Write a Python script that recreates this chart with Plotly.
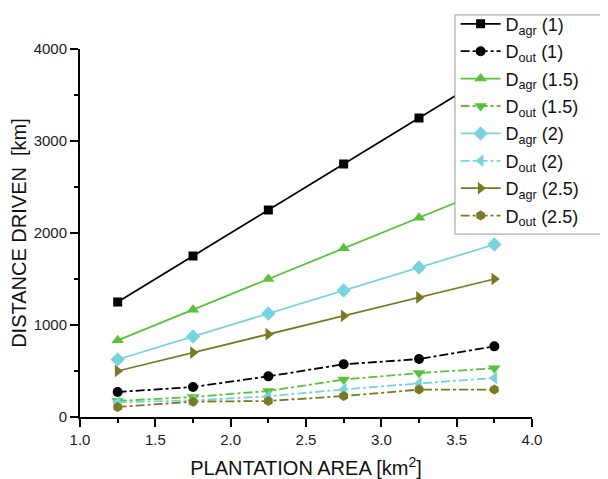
import plotly.graph_objects as go

area = [1.25, 1.75, 2.25, 2.75, 3.25, 3.75]

d_agr_1 = [1250, 1750, 2250, 2750, 3250, 3750]
d_out_1 = [272, 326, 442, 573, 630, 768]
d_agr_15 = [833, 1167, 1500, 1833, 2167, 2500]
d_out_15 = [175, 217, 283, 407, 478, 529]
d_agr_2 = [625, 875, 1125, 1375, 1625, 1875]
d_out_2 = [160, 180, 225, 300, 365, 424]
d_agr_25 = [500, 700, 900, 1100, 1300, 1500]
d_out_25 = [109, 167, 174, 228, 298, 298]

BLACK = "#000000"
GREEN = "#58c23a"
CYAN = "#79d2dd"
OLIVE = "#7a7a22"

series = [
    ("D<sub>agr</sub> (1)", d_agr_1, BLACK, "solid", "square", 9),
    ("D<sub>out</sub> (1)", d_out_1, BLACK, "dashdot", "circle", 10),
    ("D<sub>agr</sub> (1.5)", d_agr_15, GREEN, "solid", "triangle-up", 11),
    ("D<sub>out</sub> (1.5)", d_out_15, GREEN, "dashdot", "triangle-down", 11),
    ("D<sub>agr</sub> (2)", d_agr_2, CYAN, "solid", "diamond", 11),
    ("D<sub>out</sub> (2)", d_out_2, CYAN, "dashdot", "triangle-left", 11),
    ("D<sub>agr</sub> (2.5)", d_agr_25, OLIVE, "solid", "triangle-right", 11),
    ("D<sub>out</sub> (2.5)", d_out_25, OLIVE, "dashdot", "hexagon", 10),
]

fig = go.Figure()
for i, (name, vals, color, dash, sym, size) in enumerate(series):
    fig.add_trace(go.Scatter(
        x=area, y=vals, name=name, mode="lines+markers",
        legendgroup="g%d" % i,
        line=dict(color=color, width=1.8, dash=dash),
        marker=dict(color=color, symbol=sym, size=size, line=dict(width=0)),
        cliponaxis=False,
    ))

# legend frame (runs off the right edge, as in the reference)
fig.add_shape(type="rect", xref="paper", yref="paper",
              x0=0.8296, x1=1.25, y0=0.497, y1=1.0925,
              fillcolor="white", line=dict(color="#9a9a9a", width=1), layer="above")

FONT = "Liberation Sans, Arial, sans-serif"
fig.update_layout(
    width=608, height=479,
    margin=dict(l=72, r=84, t=41, b=70, autoexpand=False),
    paper_bgcolor="white", plot_bgcolor="white",
    font=dict(family=FONT, color="#222222", size=15),
    showlegend=True,
    legend=dict(
        x=0.831, y=1.118, xanchor="left", yanchor="top",
        bgcolor="rgba(0,0,0,0)", borderwidth=0,
        font=dict(family=FONT, size=18, color="#111111"),
        tracegroupgap=1, itemwidth=40,
    ),
    xaxis=dict(
        range=[1.0, 4.0], tickmode="array",
        tickvals=[1.0, 1.5, 2.0, 2.5, 3.0, 3.5, 4.0],
        ticktext=["1.0", "1.5", "2.0", "2.5", "3.0", "3.5", "4.0"],
        ticks="outside", ticklen=8, tickwidth=2, tickcolor="black",
        minor=dict(tickvals=[1.25, 1.75, 2.25, 2.75, 3.25, 3.75], ticks="outside", ticklen=4, tickwidth=1.5, tickcolor="black"),
        showline=True, linecolor="black", linewidth=2,
        showgrid=False, zeroline=False, automargin=False,
        tickfont=dict(size=15, family=FONT),
        title=dict(text="PLANTATION AREA [km<sup>2</sup>]", font=dict(size=20, family=FONT, color="#111111"), standoff=14),
    ),
    yaxis=dict(
        range=[0, 4000], tickmode="array",
        tickvals=[0, 1000, 2000, 3000, 4000],
        ticks="outside", ticklen=8, tickwidth=2, tickcolor="black",
        minor=dict(tickvals=[500, 1500, 2500, 3500], ticks="outside", ticklen=4, tickwidth=1.5, tickcolor="black"),
        showline=True, linecolor="black", linewidth=2,
        showgrid=False, zeroline=False, automargin=False,
        tickfont=dict(size=15, family=FONT),
        title=dict(text="DISTANCE DRIVEN  [km]", font=dict(size=20, family=FONT, color="#111111"), standoff=6),
    ),
)

fig.write_html("out.html")
